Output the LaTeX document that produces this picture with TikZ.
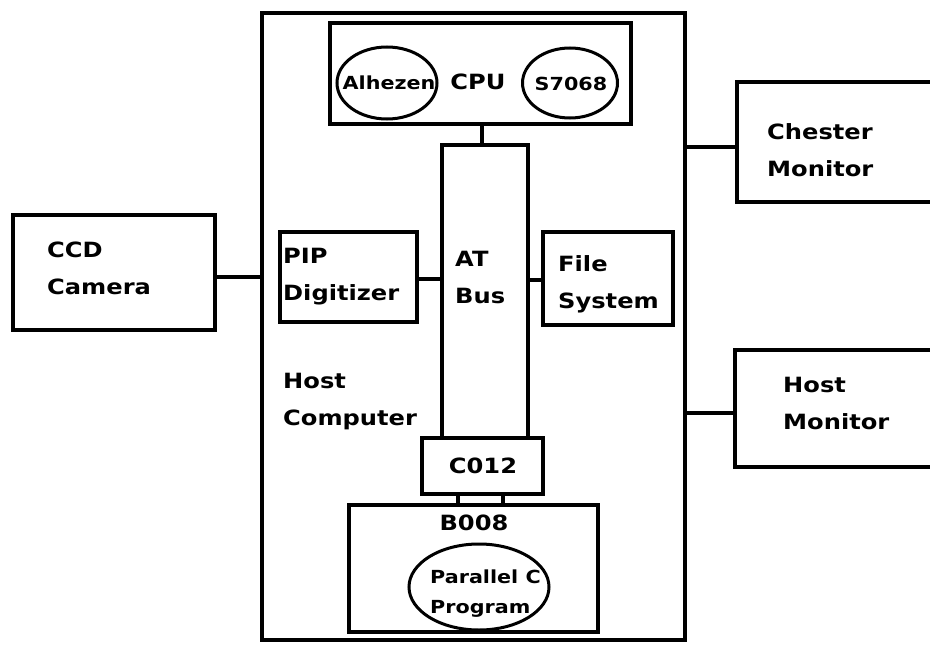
\documentclass[tikz,border=0pt]{standalone}
\usepackage{fontspec}
\newfontfamily\plot[FakeStretch=1.15]{DejaVu Sans}
\usetikzlibrary{shapes.geometric}
\tikzset{
  box/.style={draw, line width=3.4pt, inner sep=0pt, minimum width=#1},
  oval/.style={draw, ellipse, line width=3pt, inner sep=0pt},
  link/.style={line width=3.4pt},
  big/.style={font=\plot\bfseries\fontsize{21}{37}\selectfont, inner sep=0pt, align=left, text depth=0pt},
  small/.style={font=\plot\bfseries\fontsize{18}{30}\selectfont, inner sep=0pt, align=left, text depth=0pt}
}
\begin{document}
\begin{tikzpicture}[x=1pt,y=-1pt]
\clip (0,0) rectangle (930,645);
\fill[white] (0,0) rectangle (930,645);
% boxes
\node[box=423, minimum height=627] (host) at (473.5,326.5) {};
\node[box=301, minimum height=101] (cpu) at (480.5,73.5) {};
\node[box=86, minimum height=293] (bus) at (485,291.5) {};
\node[box=121, minimum height=56] (c012) at (482.5,466) {};
\node[box=249, minimum height=127] (b008) at (473.5,568.5) {};
\node[box=137, minimum height=90] (pip) at (348.5,277) {};
\node[box=130, minimum height=93] (fs) at (608,278.5) {};
\node[box=202, minimum height=115] (cam) at (114,272.5) {};
\node[box=223, minimum height=120] (chester) at (848.5,142) {};
\node[box=225, minimum height=117] (hostmon) at (847.5,408.5) {};
% ellipses
\node[oval, minimum width=100, minimum height=72] (alh) at (387,83) {};
\node[oval, minimum width=95, minimum height=70] (s7068) at (570,83) {};
\node[oval, minimum width=140, minimum height=86] (par) at (479,587) {};
% texts
\node[small] (alhtxt) at (389,83) {Alhezen};
\node[small] (s7068txt) at (571,84) {S7068};
\node[big] (cputxt) at (478,82) {CPU};
\node[big] (c012txt) at (483,466) {C012};
\node[big] (b008txt) at (474,523) {B008};
\node[small, anchor=west] (partxt) at (430,592) {Parallel C\\Program};
\node[big, anchor=west] (camtxt) at (47,268.5) {CCD\\Camera};
\node[big, anchor=west] (piptxt) at (283,274) {PIP\\Digitizer};
\node[big, anchor=west] (bustxt) at (455,277.5) {AT\\Bus};
\node[big, anchor=west] (fstxt) at (558,282.5) {File\\System};
\node[big, anchor=west] (hosttxt) at (283,399) {Host\\Computer};
\node[big, anchor=west] (chtxt) at (767,150) {Chester\\Monitor};
\node[big, anchor=west] (hmtxt) at (783,403.5) {Host\\Monitor};
% connectors
\draw[link] (cpu.south -| 482,0) -- (bus.north -| 482,0);
\draw[link] (cam.east |- 0,277) -- (host.west |- 0,277);
\draw[link] (pip.east |- 0,279) -- (bus.west |- 0,279);
\draw[link] (bus.east |- 0,280) -- (fs.west |- 0,280);
\draw[link] (c012.south -| 458,0) -- (b008.north -| 458,0);
\draw[link] (c012.south -| 503,0) -- (b008.north -| 503,0);
\draw[link] (host.east |- 0,147) -- (chester.west |- 0,147);
\draw[link] (host.east |- 0,413) -- (hostmon.west |- 0,413);
\end{tikzpicture}
\end{document}
